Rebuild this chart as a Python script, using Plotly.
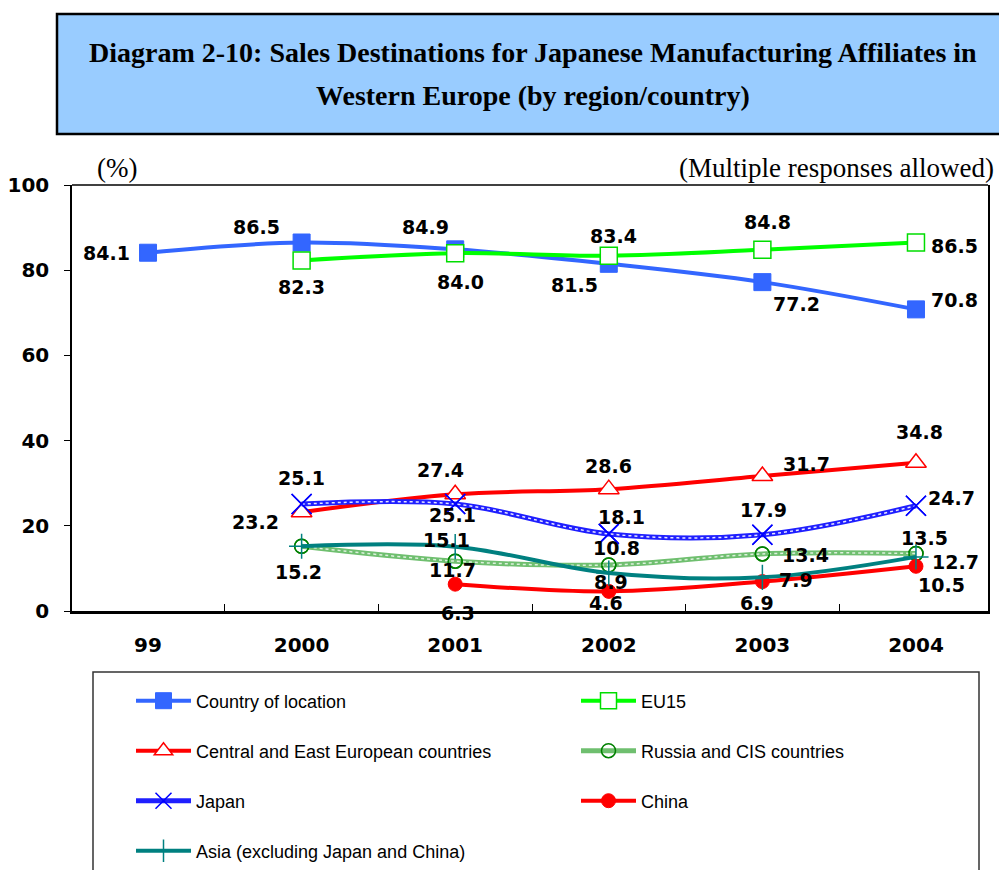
import plotly.graph_objects as go

# ---------------- data ----------------
years = ["99", "2000", "2001", "2002", "2003", "2004"]
country_of_location = [84.1, 86.5, 84.9, 81.5, 77.2, 70.8]
eu15 = [None, 82.3, 84.0, 83.4, 84.8, 86.5]
central_east_europe = [None, 23.2, 27.4, 28.6, 31.7, 34.8]
russia_cis = [None, 15.2, 11.7, 10.8, 13.4, 13.5]
japan = [None, 25.1, 25.1, 18.1, 17.9, 24.7]
china = [None, None, 6.3, 4.6, 6.9, 10.5]
asia_excl = [None, 15.2, 15.1, 8.9, 7.9, 12.7]
y_ticks = [0, 20, 40, 60, 80, 100]

# ---------------- geometry ----------------
W, H = 999, 870
L, R, T, B = 72, 11, 185, 259
PW, PH = W - L - R, H - T - B


def px(xpix):
    return (xpix - L) / PW


def py(ypix):
    return (H - B - ypix) / PH


LABEL_FONT = dict(family="DejaVu Sans", size=19, color="black", weight="bold")

# label offsets (xshift, yshift) per point; None = no label
series = [
    dict(name="Country of location", y=country_of_location, color="#3366FF", width=4,
         symbol="square", msize=17, mfill="#3366FF", mline="#3366FF", mlw=1,
         offs=[(-42, 0), (-45, 16), (-30, 22), (-34, -21), (34, -22), (39, 9)]),
    dict(name="EU15", y=eu15, color="#00FF00", width=4,
         symbol="square", msize=17, mfill="white", mline="#00DD00", mlw=1.5,
         offs=[None, (0, -27), (5, -29), (5, 20), (5, 28), (39, -3)]),
    dict(name="Central and East European countries", y=central_east_europe, color="#FF0000", width=4,
         symbol="triangle-up", msize=18, mfill="white", mline="#FF0000", mlw=1.5,
         offs=[None, (-46, -10), (-15, 24), (0, 23), (44, 12), (4, 31)]),
    dict(name="Russia and CIS countries", y=russia_cis, color="#6FBF6F", width=5,
         symbol="circle", msize=14, mfill="rgba(0,0,0,0)", mline="#008000", mlw=1.5,
         overlay="#DDF0DD",
         offs=[None, None, (-3, -9), (8, 17), (43, -1), (9, 15)]),
    dict(name="Japan", y=japan, color="#1F1FFF", width=5,
         symbol="x-thin", msize=20, mfill="#0000FF", mline="#0000FF", mlw=1.5,
         overlay="#E6E6FF",
         offs=[None, (0, 26), (-3, -11), (13, 17), (1, 25), (36, 8)]),
    dict(name="China", y=china, color="#FF0000", width=4,
         symbol="circle", msize=14, mfill="#FF0000", mline="#FF0000", mlw=1,
         offs=[None, None, (3, -29), (-3, -12), (-5, -21), (26, -19)]),
    dict(name="Asia (excluding Japan and China)", y=asia_excl, color="#008080", width=4,
         symbol="cross-thin", msize=18, mfill="#008080", mline="#008080", mlw=1.5,
         offs=[None, (-3, -26), (-9, 7), (2, -9), (34, -3), (40, -5)]),
]

legend_pos = [(131, 701), (576, 701), (131, 751), (576, 751), (131, 801), (576, 801), (131, 851)]

fig = go.Figure()
annotations = []
legends = {}

for i, s in enumerate(series):
    lname = "legend" if i == 0 else f"legend{i + 1}"
    marker = dict(symbol=s["symbol"], size=s["msize"], color=s["mfill"],
                  line=dict(color=s["mline"], width=s["mlw"]))
    fig.add_trace(go.Scatter(
        x=years, y=s["y"], name=s["name"], mode="lines+markers",
        line=dict(color=s["color"], width=s["width"], shape="spline", smoothing=1),
        marker=marker, legend=lname, cliponaxis=False,
    ))
    if "overlay" in s:
        fig.add_trace(go.Scatter(
            x=years, y=s["y"], mode="lines", showlegend=False, hoverinfo="skip",
            line=dict(color=s["overlay"], width=1.5, dash="dot", shape="spline", smoothing=1),
        ))
        fig.add_trace(go.Scatter(
            x=years, y=s["y"], mode="markers", showlegend=False, hoverinfo="skip",
            marker=marker, cliponaxis=False,
        ))
    for xi, v in enumerate(s["y"]):
        o = s["offs"][xi]
        if v is None or o is None:
            continue
        # category axis: annotation x given as category index
        annotations.append(dict(x=xi, y=v, xref="x", yref="y", text=f"{v:.1f}",
                                showarrow=False, xshift=o[0], yshift=o[1],
                                font=LABEL_FONT))
    lx, ly = legend_pos[i]
    legends[lname] = dict(x=px(lx), y=py(ly), xanchor="left", yanchor="middle",
                          bgcolor="rgba(0,0,0,0)", borderwidth=0,
                          font=dict(family="Liberation Sans", size=18, color="black"),
                          itemwidth=55)

# header texts
SERIF = "Liberation Serif"
annotations += [
    dict(x=px(533), y=py(52), xref="paper", yref="paper", showarrow=False,
         xanchor="center", yanchor="middle",
         text="Diagram 2-10: Sales Destinations for Japanese Manufacturing Affiliates in",
         font=dict(family=SERIF, size=28, color="black", weight="bold")),
    dict(x=px(533), y=py(96), xref="paper", yref="paper", showarrow=False,
         xanchor="center", yanchor="middle",
         text="Western Europe (by region/country)",
         font=dict(family=SERIF, size=28, color="black", weight="bold")),
    dict(x=px(95), y=py(168), xref="paper", yref="paper", showarrow=False,
         xanchor="left", yanchor="middle",
         text="(%)", font=dict(family=SERIF, size=27, color="black")),
    dict(x=px(996), y=py(168), xref="paper", yref="paper", showarrow=False,
         xanchor="right", yanchor="middle",
         text="(Multiple responses allowed)", font=dict(family=SERIF, size=27, color="black")),
]

shapes = [
    # title box
    dict(type="rect", xref="paper", yref="paper", x0=px(57), x1=px(1015), y0=py(134), y1=py(14),
         fillcolor="#99CCFF", line=dict(color="black", width=2.5), layer="below"),
    # legend box
    dict(type="rect", xref="paper", yref="paper", x0=px(93), x1=px(979), y0=py(890), y1=py(672),
         fillcolor="rgba(0,0,0,0)", line=dict(color="#333333", width=1.5)),
    # top frame line
    dict(type="line", xref="paper", yref="paper", x0=0, x1=1, y0=1, y1=1,
         line=dict(color="black", width=1.5)),
]

fig.update_layout(
    width=W, height=H, margin=dict(l=L, r=R, t=T, b=B, autoexpand=False),
    paper_bgcolor="white", plot_bgcolor="white",
    annotations=annotations, shapes=shapes,
    hovermode=False,
    **legends,
)

fig.update_xaxes(
    type="category", categoryorder="array", categoryarray=years,
    range=[-0.495, 5.469], showgrid=False, zeroline=False,
    showline=True, linecolor="black", linewidth=2.5,
    ticks="inside", tickson="boundaries", ticklen=7, tickcolor="black", tickwidth=1,
    tickfont=dict(family="DejaVu Sans", size=20, color="black", weight="bold"),
    ticklabelstandoff=14,
)
fig.update_yaxes(
    range=[0, 100], tickvals=y_ticks, showgrid=False, zeroline=False,
    showline=True, linecolor="black", linewidth=1.5, mirror=True,
    ticks="outside", ticklen=6, tickcolor="black",
    tickfont=dict(family="DejaVu Sans", size=20, color="black", weight="bold"),
    ticklabelstandoff=11,
)

fig.write_html(
    "out.html",
    config={"displayModeBar": False},
    post_script="document.body.style.margin='0';document.body.style.overflow='hidden';",
)
